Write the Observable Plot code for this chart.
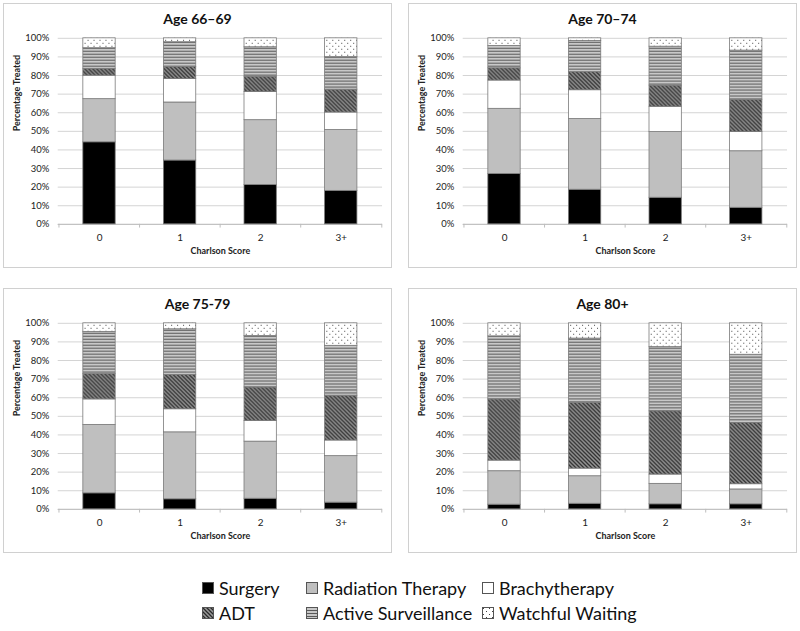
<!DOCTYPE html>
<html><head><meta charset="utf-8">
<script src="https://cdn.jsdelivr.net/npm/d3@7"></script>
<script src="https://cdn.jsdelivr.net/npm/@observablehq/plot@0.6"></script>
<style>
body{margin:0;background:#fff;font-family:Lato,"Open Sans",sans-serif;color:#000;}
#root{position:relative;width:800px;height:631px;overflow:hidden;background:#fff;}
.panel{position:absolute;width:389px;height:265px;box-sizing:border-box;border:1px solid #d0d0d0;background:#fff;}
.panel svg.chart{position:absolute;left:-1px;top:-1px;}
.ptitle{position:absolute;left:0;right:0;top:6px;line-height:18px;text-align:center;font-weight:bold;font-size:14px;color:#111;}
.leg{position:absolute;font-size:18px;line-height:22px;display:flex;align-items:center;white-space:nowrap;color:#111;}
.leg svg{margin-right:5px;}
</style>
</head><body>
<svg width="0" height="0" style="position:absolute">
  <defs>
    <pattern id="pat-adt" width="4" height="4" patternUnits="userSpaceOnUse">
      <rect width="4" height="4" fill="#9a9a9a"/>
      <path d="M-1,-1 L5,5 M-1,3 L1,5 M3,-1 L5,1" stroke="#2a2a2a" stroke-width="1.3"/>
    </pattern>
    <pattern id="pat-as" width="6" height="3" patternUnits="userSpaceOnUse">
      <rect width="6" height="3" fill="#c8c8c8"/>
      <rect y="0" width="6" height="1" fill="#5a5a5a"/>
    </pattern>
    <pattern id="pat-ww" width="6" height="6" patternUnits="userSpaceOnUse">
      <rect width="6" height="6" fill="#fff"/>
      <rect x="1" y="1" width="1" height="1" fill="#444"/>
      <rect x="4" y="4" width="1" height="1" fill="#444"/>
    </pattern>
  </defs>
</svg>
<div id="root"></div>
<script>
// ---- data (percent of patients) ----
const ageGroups = ["Age 66–69", "Age 70–74", "Age 75-79", "Age 80+"];
const scores = ["0", "1", "2", "3+"];
const treatments = ["Surgery", "Radiation Therapy", "Brachytherapy", "ADT", "Active Surveillance", "Watchful Waiting"];
// each array: one row per age group, values for Charlson 0, 1, 2, 3+
const surgery      = [[44.1, 34.3, 21.2, 18.0], [27.1, 18.6, 14.3, 8.9], [8.6, 5.4, 5.7, 3.6], [2.5, 3.0, 2.7, 2.7]];
const radiation    = [[23.2, 31.2, 34.8, 32.7], [35.0, 38.0, 35.3, 30.4], [36.8, 36.0, 30.7, 25.0], [18.0, 14.8, 11.0, 8.0]];
const brachy       = [[12.6, 12.6, 15.2, 9.4], [15.2, 15.5, 13.6, 10.3], [13.7, 12.4, 11.1, 8.4], [5.7, 4.1, 5.0, 2.8]];
const adt          = [[3.7, 6.4, 8.2, 12.3], [6.6, 9.7, 11.4, 17.4], [13.6, 18.5, 18.0, 24.1], [32.9, 35.4, 34.0, 32.9]];
const surveillance = [[11.1, 13.4, 15.8, 17.5], [12.0, 16.8, 20.9, 26.4], [22.7, 24.5, 27.7, 26.8], [33.9, 34.5, 34.5, 36.7]];
const watchful     = [[5.3, 2.1, 4.8, 10.1], [4.1, 1.4, 4.5, 6.6], [4.6, 3.2, 6.8, 12.1], [7.0, 8.2, 12.8, 16.9]];
const yTicks = [0, 10, 20, 30, 40, 50, 60, 70, 80, 90, 100];

const seriesByTreatment = [surgery, radiation, brachy, adt, surveillance, watchful];
const fills = ["#000000", "#bfbfbf", "#ffffff", "url(#pat-adt)", "url(#pat-as)", "url(#pat-ww)"];

const root = document.getElementById("root");
const panelPos = [[3, 3], [408, 3], [3, 288], [408, 288]];

function rowsFor(p) {
  const rows = [];
  treatments.forEach((t, k) => {
    seriesByTreatment[k][p].forEach((v, j) => rows.push({treatment: t, score: scores[j], value: v}));
  });
  return rows;
}

ageGroups.forEach((age, p) => {
  const div = document.createElement("div");
  div.className = "panel";
  div.style.left = panelPos[p][0] + "px";
  div.style.top = panelPos[p][1] + "px";
  const W = 389, H = 265, ML = 55, MR = 8, MT = 35, MB = 43;
  const step = (W - ML - MR) / scores.length;
  const barW = 33;
  const inset = (step - barW) / 2;
  const chart = Plot.plot({
    width: W, height: H,
    marginTop: MT, marginBottom: MB, marginLeft: ML, marginRight: MR,
    style: {fontFamily: "Lato, 'Open Sans', sans-serif", fontSize: "9.5px", color: "#222", background: "transparent"},
    x: {domain: scores, padding: 0, axis: null},
    y: {domain: [0, 100], axis: null},
    color: {domain: treatments, range: fills},
    marks: [
      Plot.gridY(yTicks, {stroke: "#d4d4d4", strokeOpacity: 1}),
      Plot.ruleY([0], {stroke: "#bdbdbd"}),
      Plot.ruleX(scores, {x: d => d, dx: -step / 2, y1: 0, y2: -2, stroke: "#bdbdbd"}),
      Plot.ruleX([scores[scores.length - 1]], {x: d => d, dx: step / 2, y1: 0, y2: -2, stroke: "#bdbdbd"}),
      Plot.barY(rowsFor(p), {x: "score", y: "value", fill: "treatment", stroke: "#7a7a7a", strokeWidth: 0.8, insetLeft: inset, insetRight: inset}),
      Plot.axisY(yTicks, {tickSize: 0, tickPadding: 9, tickFormat: d => d + "%", label: null, fontSize: 9.5}),
      Plot.axisX({tickSize: 0, tickPadding: 10, label: null, fontSize: 10}),
      Plot.text(["Percentage Treated"], {frameAnchor: "left", text: d => d, rotate: -90, dx: -41, fontWeight: "bold", fontSize: 9, fill: "#222"}),
      Plot.text(["Charlson Score"], {frameAnchor: "bottom", text: d => d, dy: 30, fontWeight: "bold", fontSize: 9, fill: "#222"})
    ]
  });
  chart.classList.add("chart");
  div.appendChild(chart);
  const t = document.createElement("div");
  t.className = "ptitle";
  t.textContent = age;
  div.appendChild(t);
  root.appendChild(div);
});

// legend
const legPos = [[202, 588], [306, 588], [482, 588], [202, 613], [306, 613], [482, 613]];
treatments.forEach((t, k) => {
  const d = document.createElement("div");
  d.className = "leg";
  d.style.left = legPos[k][0] + "px";
  d.style.top = (legPos[k][1] - 11) + "px";
  d.innerHTML = `<svg width="12" height="12"><rect x="0.5" y="0.5" width="11" height="11" fill="${fills[k]}" stroke="#555" stroke-width="1"/></svg><span></span>`;
  d.querySelector("span").textContent = t;
  root.appendChild(d);
});
</script>
</body></html>
